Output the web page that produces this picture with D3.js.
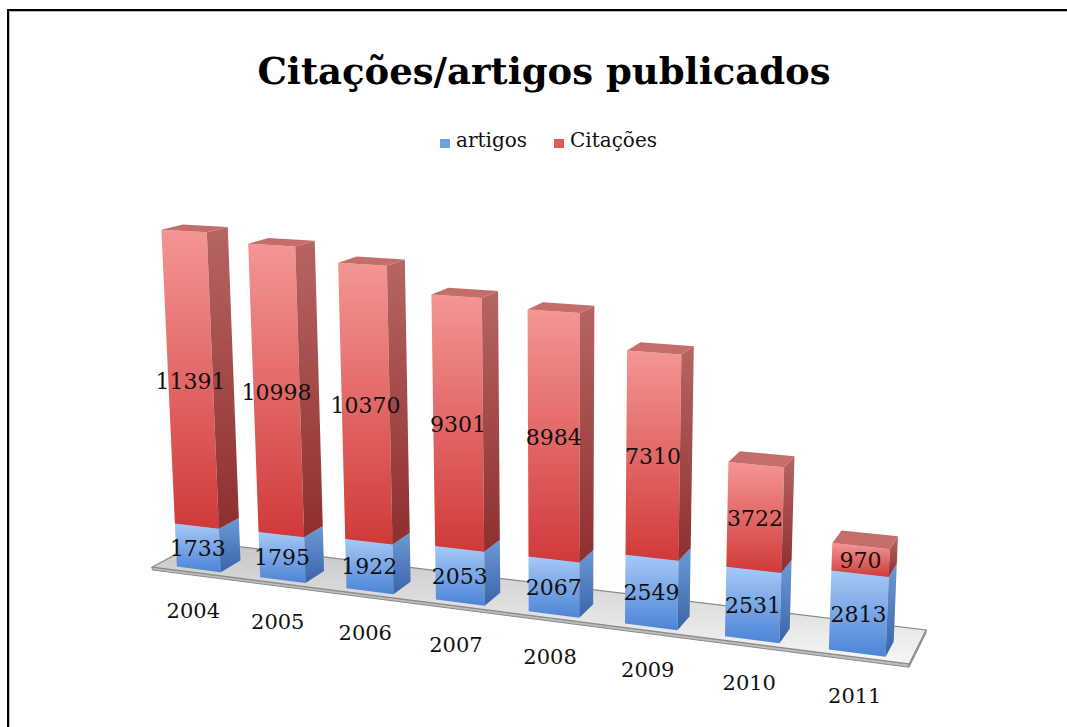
<html>
<style>
  body { margin: 0; background: #fff; }
  text { font-family: "DejaVu Serif", serif; }
</style>
<body>
<script src="https://d3js.org/d3.v7.min.js"></script>
<script>
// data
const years = ["2004", "2005", "2006", "2007", "2008", "2009", "2010", "2011"];
const artigos = [1733, 1795, 1922, 2053, 2067, 2549, 2531, 2813];
const citacoes = [11391, 10998, 10370, 9301, 8984, 7310, 3722, 970];
const seriesNames = ["artigos", "Citações"];
const title = "Citações/artigos publicados";

const W = 1067, H = 727;

const svg = d3.select("body").append("svg")
    .attr("width", W)
    .attr("height", H);

// frame
svg.append("path").attr("d", `M9.5,${H} V11.5 H${W}`)
    .attr("fill", "none").attr("stroke", "#bbb").attr("stroke-width", 1);
svg.append("path").attr("d", `M8,${H} V10 H${W}`)
    .attr("fill", "none").attr("stroke", "#000").attr("stroke-width", 2);

// camera (perspective, looking down and turned to the right)
const cam = {f: 1850, cx: 560, cy: 363, yaw: 20.26 * Math.PI / 180, pitch: 12.19 * Math.PI / 180};
const origin = {x: -0.691, y: -1, z: 2.991};   // front-left corner of the floor
const floorLen = 1.28, floorDepth = 0.15, floorThick = 0.005;
const barD0 = 0.017, barD1 = 0.083;

function project(s, h, d) {
  const ca = Math.cos(cam.yaw), sa = Math.sin(cam.yaw);
  const ct = Math.cos(cam.pitch), st = Math.sin(cam.pitch);
  const x = origin.x + s * ca + d * sa;
  const z = origin.z - s * sa + d * ca;
  const y = origin.y + h;
  const yc = y * ct + z * st;
  const zc = -y * st + z * ct;
  return [cam.cx + cam.f * x / zc, cam.cy - cam.f * yc / zc];
}

const xBand = d3.scaleBand().domain(years).range([0, floorLen])
    .paddingInner(0.47).paddingOuter(0.235);
const hScale = d3.scaleLinear().domain([0, 14000]).range([0, 0.6138]);

const rows = years.map((y, i) => ({year: y, artigos: artigos[i], citacoes: citacoes[i]}));
const stacked = d3.stack().keys(["artigos", "citacoes"])(rows);

const poly = pts => d3.line()(pts.map(p => project(...p))) + "Z";

// gradients
const defs = svg.append("defs");
function grad(id, c0, c1, vertical = true) {
  const g = defs.append("linearGradient").attr("id", id)
      .attr("x1", 0).attr("y1", 0).attr("x2", vertical ? 0 : 1).attr("y2", vertical ? 1 : 0);
  g.append("stop").attr("offset", "0%").attr("stop-color", c0);
  g.append("stop").attr("offset", "100%").attr("stop-color", c1);
}
grad("blueFront", "#a6c9f6", "#4c84d6");
grad("blueSide", "#6c9ad6", "#3a64a8");
grad("redFront", "#f49694", "#d03a39");
grad("redSide", "#b66563", "#8f2f2e");
grad("floorTop", "#c6c6c6", "#f6f6f6");
const fills = [
  {front: "url(#blueFront)", side: "url(#blueSide)", top: "#7ea6dc"},
  {front: "url(#redFront)", side: "url(#redSide)", top: "#c46e6c"}
];

// floor
const floor = svg.append("g");
floor.append("path")
    .attr("d", poly([[0, 0, 0], [floorLen, 0, 0], [floorLen, -floorThick, 0], [0, -floorThick, 0]]))
    .attr("fill", "#bdbdbd").attr("stroke", "#8a8a8a").attr("stroke-width", 1);
floor.append("path")
    .attr("d", poly([[floorLen, 0, 0], [floorLen, 0, floorDepth], [floorLen, -floorThick, floorDepth], [floorLen, -floorThick, 0]]))
    .attr("fill", "#a8a8a8").attr("stroke", "#8a8a8a").attr("stroke-width", 1);
floor.append("path")
    .attr("d", poly([[0, 0, 0], [floorLen, 0, 0], [floorLen, 0, floorDepth], [0, 0, floorDepth]]))
    .attr("fill", "url(#floorTop)").attr("stroke", "#8a8a8a").attr("stroke-width", 1.2);

// bars, far (left) to near (right)
const bars = svg.append("g");
years.forEach((yr, i) => {
  const s0 = xBand(yr), s1 = s0 + xBand.bandwidth();
  stacked.forEach((layer, k) => {
    const h0 = hScale(layer[i][0]), h1 = hScale(layer[i][1]);
    const g = bars.append("g");
    g.append("path")
        .attr("d", poly([[s0, h0, barD0], [s1, h0, barD0], [s1, h1, barD0], [s0, h1, barD0]]))
        .attr("fill", fills[k].front);
    g.append("path")
        .attr("d", poly([[s1, h0, barD0], [s1, h0, barD1], [s1, h1, barD1], [s1, h1, barD0]]))
        .attr("fill", fills[k].side);
    g.append("path")
        .attr("d", poly([[s0, h1, barD0], [s1, h1, barD0], [s1, h1, barD1], [s0, h1, barD1]]))
        .attr("fill", fills[k].top);
  });
});

// value labels on the front faces
const labels = svg.append("g").attr("font-size", 22).attr("fill", "#111")
    .attr("text-anchor", "middle");
stacked.forEach(layer => {
  layer.forEach((d, i) => {
    const s = xBand(years[i]) + xBand.bandwidth() / 2;
    const [x, y] = project(s, hScale((d[0] + d[1]) / 2), barD0);
    labels.append("text").attr("x", x).attr("y", y + 8)
        .text(d[1] - d[0]);
  });
});

// category labels
const cats = svg.append("g").attr("font-size", 21).attr("fill", "#111")
    .attr("text-anchor", "middle");
years.forEach(yr => {
  const [x, y] = project(xBand(yr) + xBand.bandwidth() / 2, 0, 0);
  cats.append("text").attr("x", x).attr("y", y + 46).text(yr);
});

// title
svg.append("text").attr("x", 544).attr("y", 84)
    .attr("text-anchor", "middle").attr("font-size", 37).attr("font-weight", "bold")
    .attr("fill", "#000").text(title);

// legend
const legend = svg.append("g").attr("font-size", 20).attr("fill", "#111");
const legendX = [440, 554];
const legendCol = ["#6f9fe6", "#e05a58"];
seriesNames.forEach((n, i) => {
  legend.append("rect").attr("x", legendX[i]).attr("y", 139).attr("width", 10).attr("height", 9)
      .attr("fill", legendCol[i]);
  legend.append("text").attr("x", legendX[i] + 16).attr("y", 147).text(n);
});
</script>
</body>
</html>
